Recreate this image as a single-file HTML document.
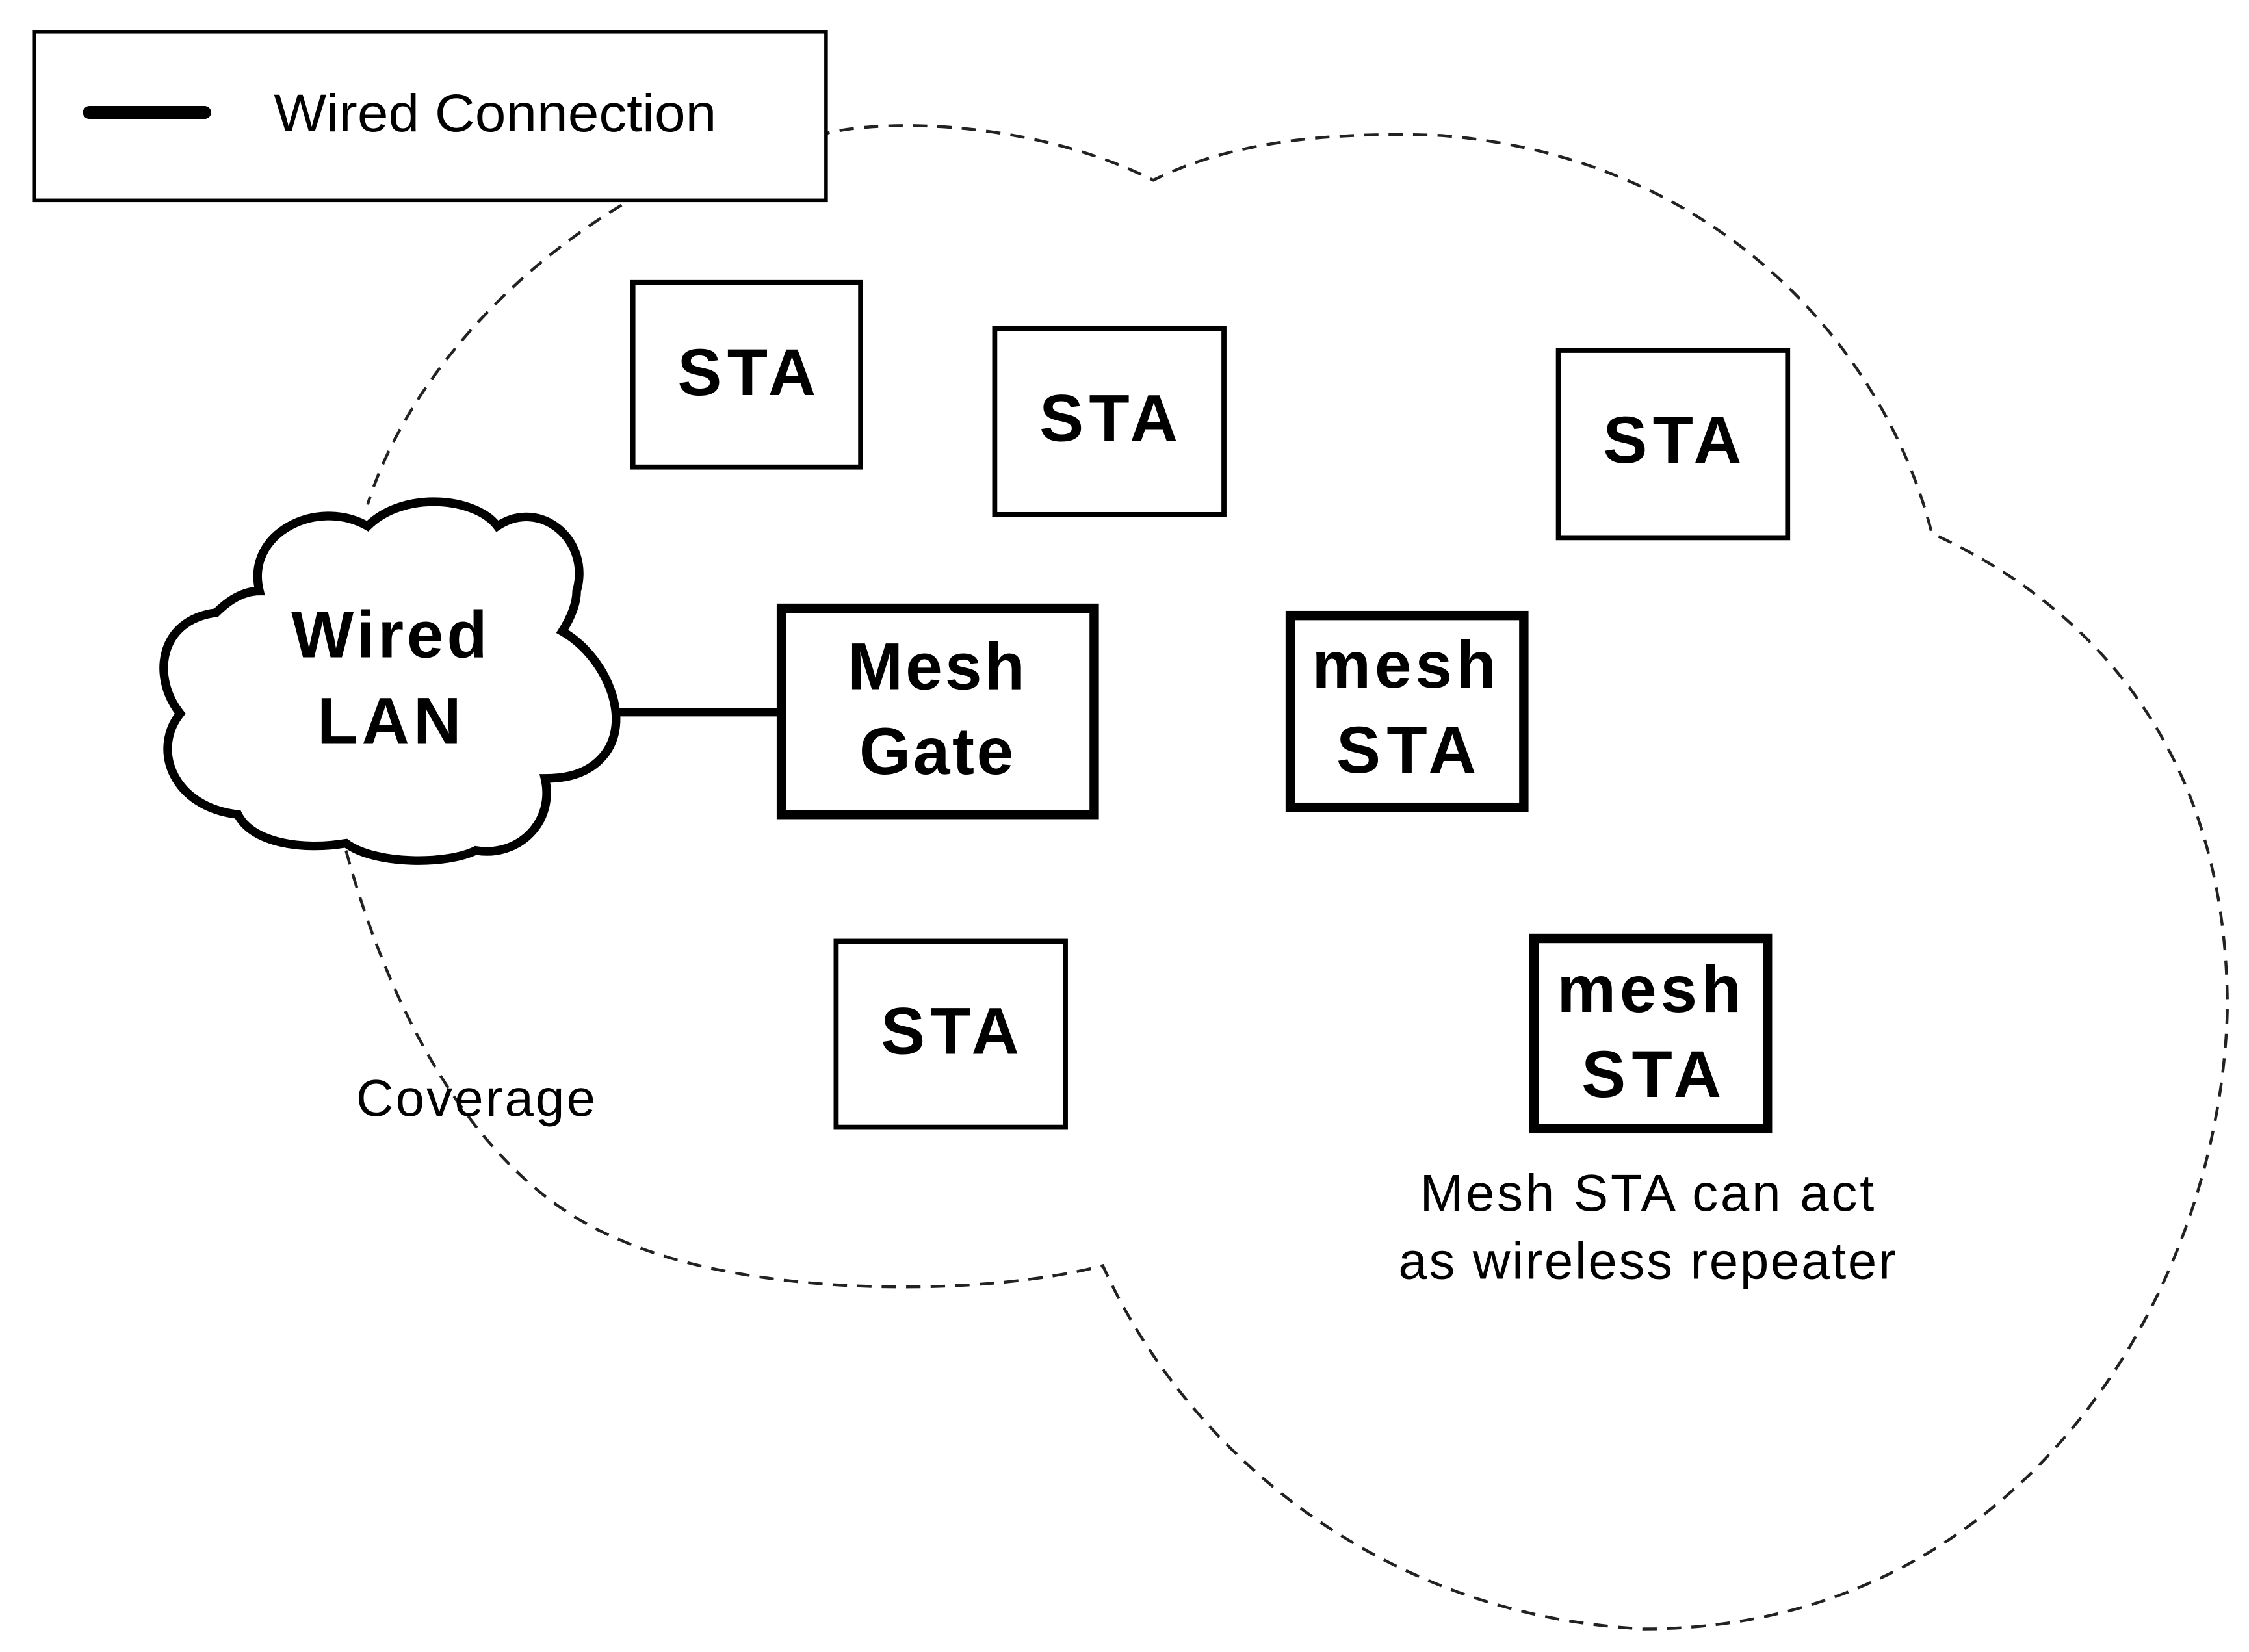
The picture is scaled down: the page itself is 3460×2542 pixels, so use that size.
<!DOCTYPE html>
<html><head><style>html,body{margin:0;padding:0;background:#fff}svg{display:block}</style></head>
<body>
<svg width="3460" height="2542" viewBox="0 0 1560 1146" preserveAspectRatio="none" xmlns="http://www.w3.org/2000/svg" font-family="Liberation Sans, sans-serif">
<path d="M240,590 C270,700 330,820 430,860 C520,900 680,900 765,878 C820,1000 950,1120 1140,1130 C1400,1130 1540,900 1545,700 C1545,520 1450,420 1340,370 C1310,250 1200,110 1000,94 C900,90 840,105 800,125 C720,85 620,82 575,92 L435,140 C350,190 280,270 255,350" fill="none" stroke="#222" stroke-width="2" stroke-dasharray="10,7"/>
<rect x="24" y="22" width="549" height="117" fill="#fff" stroke="#000" stroke-width="2.5"/>
<line x1="62" y1="78" x2="142" y2="78" stroke="#000" stroke-width="9" stroke-linecap="round"/>
<text x="190" y="91" font-size="37" textLength="307" lengthAdjust="spacingAndGlyphs">Wired Connection</text>
<path d="M180,410 C170,370 220,345 255,365 C280,340 330,345 345,365 C375,345 410,375 400,410 C400,420 395,430 390,438 C420,455 440,500 418,525 C405,540 385,540 378,540 C385,570 360,595 330,590 C310,600 260,600 240,585 C210,590 175,585 165,565 C120,560 105,520 125,495 C105,470 110,430 150,425 C160,415 170,410 180,410 Z" fill="#fff" stroke="#000" stroke-width="6"/>
<g font-size="46" font-weight="bold" lengthAdjust="spacingAndGlyphs">
<text x="202" y="456" textLength="136">Wired</text>
<text x="220" y="516" textLength="100">LAN</text>
</g>
<line x1="428" y1="494" x2="542" y2="494" stroke="#000" stroke-width="6"/>
<g fill="#fff" stroke="#000">
<rect x="439" y="196" width="158" height="128" stroke-width="3.5"/>
<rect x="690" y="228" width="159" height="129" stroke-width="3.5"/>
<rect x="1081" y="243" width="159" height="130" stroke-width="3.5"/>
<rect x="580" y="653" width="159" height="129" stroke-width="3.5"/>
<rect x="542" y="422" width="217" height="143" stroke-width="6.5"/>
<rect x="895" y="427" width="162" height="133" stroke-width="6.5"/>
<rect x="1064" y="651" width="162" height="132" stroke-width="6.5"/>
</g>
<g font-size="46" font-weight="bold" lengthAdjust="spacingAndGlyphs">
<text x="470" y="274" textLength="96">STA</text>
<text x="721" y="306" textLength="96">STA</text>
<text x="1112" y="321" textLength="96">STA</text>
<text x="611" y="731" textLength="96">STA</text>
<text x="588" y="478" textLength="123">Mesh</text>
<text x="596" y="537" textLength="107">Gate</text>
<text x="910" y="477" textLength="128">mesh</text>
<text x="927" y="536" textLength="97">STA</text>
<text x="1080" y="702" textLength="128">mesh</text>
<text x="1097" y="761" textLength="97">STA</text>
</g>
<g font-size="36" lengthAdjust="spacingAndGlyphs">
<text x="247" y="774" textLength="166">Coverage</text>
<text x="985" y="840" textLength="315">Mesh STA can act</text>
<text x="970" y="887" textLength="345">as wireless repeater</text>
</g>
</svg>
</body></html>
